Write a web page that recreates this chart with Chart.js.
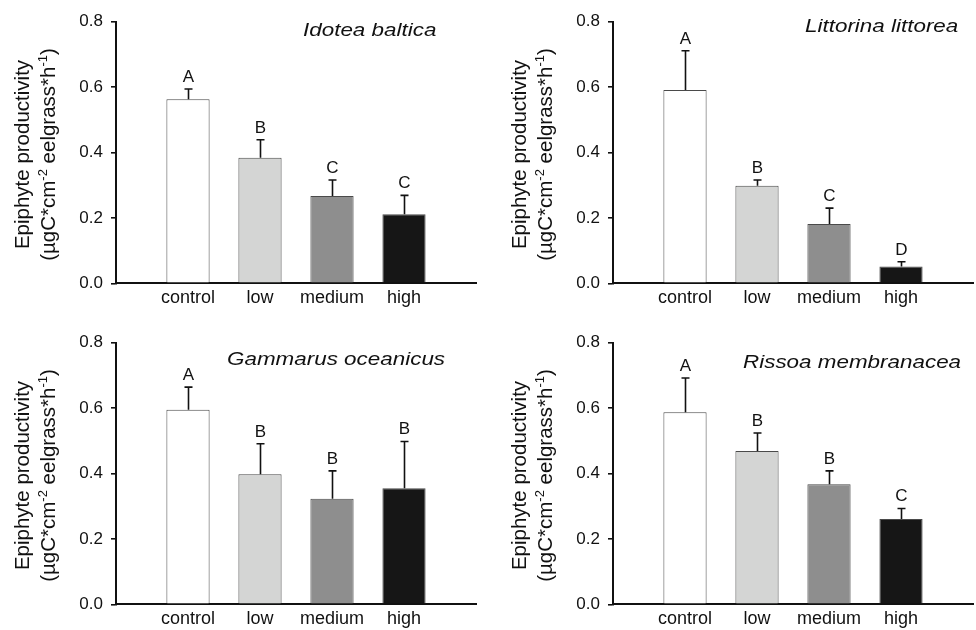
<!DOCTYPE html>
<html>
<head>
<meta charset="utf-8">
<script src="https://cdn.jsdelivr.net/npm/chart.js@4/dist/chart.umd.min.js"></script>
<style>
    html, body {
        margin: 0;
        padding: 0;
        background: #ffffff;
        overflow: hidden;
    }
    body {
        position: relative;
        width: 976px;
        height: 630px;
    }
    canvas {
        position: absolute;
    }
</style>
</head>
<body>
<canvas id="panel1" width="480" height="312" style="left:0px;top:0px"></canvas>
<canvas id="panel2" width="480" height="312" style="left:497px;top:0px"></canvas>
<canvas id="panel3" width="480" height="312" style="left:0px;top:321px"></canvas>
<canvas id="panel4" width="480" height="312" style="left:497px;top:321px"></canvas>
<script>

const categories = ["control", "low", "medium", "high"];

const yTicks = [0.0, 0.2, 0.4, 0.6, 0.8];

const barColors = ["#ffffff", "#d4d5d4", "#8e8e8e", "#161616"];

const idoteaMeans = [0.563, 0.384, 0.267, 0.211];
const idoteaErrors = [0.031, 0.055, 0.049, 0.058];
const idoteaLetters = ["A", "B", "C", "C"];

const littorinaMeans = [0.591, 0.298, 0.181, 0.051];
const littorinaErrors = [0.120, 0.018, 0.049, 0.015];
const littorinaLetters = ["A", "B", "C", "D"];

const gammarusMeans = [0.595, 0.398, 0.323, 0.355];
const gammarusErrors = [0.069, 0.093, 0.085, 0.143];
const gammarusLetters = ["A", "B", "B", "B"];

const rissoaMeans = [0.587, 0.469, 0.367, 0.261];
const rissoaErrors = [0.105, 0.055, 0.041, 0.032];
const rissoaLetters = ["A", "B", "B", "C"];

const FONT = "'Liberation Sans', Arial, Helvetica, sans-serif";
const INK = "#111111";

Chart.defaults.font.family = FONT;
Chart.defaults.color = INK;

function drawYTitle(ctx, area) {

    const cy = (area.top + area.bottom) / 2 + 2;

    ctx.save();
    ctx.fillStyle = INK;
    ctx.textBaseline = "alphabetic";

    // first line
    ctx.save();
    ctx.translate(area.left - 87, cy);
    ctx.rotate(-Math.PI / 2);
    ctx.font = "20.5px " + FONT;
    ctx.textAlign = "center";
    ctx.fillText("Epiphyte productivity", 0, 0);
    ctx.restore();

    // second line with superscripts
    const parts = [
        ["(\u00b5gC*cm", false],
        ["-2", true],
        [" eelgrass*h", false],
        ["-1", true],
        [")", false]
    ];

    const mainFont = "20.5px " + FONT;
    const supFont = "13px " + FONT;

    let total = 0;
    parts.forEach(function(p) {
        ctx.font = p[1] ? supFont : mainFont;
        total += ctx.measureText(p[0]).width;
    });

    ctx.save();
    ctx.translate(area.left - 61, cy);
    ctx.rotate(-Math.PI / 2);
    ctx.textAlign = "left";
    let u = -total / 2;
    parts.forEach(function(p) {
        ctx.font = p[1] ? supFont : mainFont;
        ctx.fillText(p[0], u, p[1] ? -8 : 0);
        u += ctx.measureText(p[0]).width;
    });
    ctx.restore();

    ctx.restore();
}

function makePanel(canvasId, name, means, errors, letters, titleSpot) {

    const labels = [""].concat(categories).concat([""]);
    const values = [null].concat(means).concat([null]);
    const colors = ["#ffffff"].concat(barColors).concat(["#ffffff"]);

    const panelPlugin = {
        id: "panelDecor",
        afterDatasetsDraw: function(chart) {

            const ctx = chart.ctx;
            const yScale = chart.scales.y;
            const bars = chart.getDatasetMeta(0).data;

            ctx.save();
            ctx.strokeStyle = INK;
            ctx.fillStyle = INK;
            ctx.lineWidth = 1.6;

            means.forEach(function(m, i) {

                const bar = bars[i + 1];
                const x = Math.round(bar.x) + 0.5;
                const yTop = yScale.getPixelForValue(m);
                const yErr = yScale.getPixelForValue(m + errors[i]);

                ctx.beginPath();
                ctx.moveTo(x, yTop);
                ctx.lineTo(x, yErr);
                ctx.moveTo(x - 4, yErr);
                ctx.lineTo(x + 4, yErr);
                ctx.stroke();

                ctx.font = "17px " + FONT;
                ctx.textAlign = "center";
                ctx.textBaseline = "alphabetic";
                ctx.fillText(letters[i], x, yErr - 7);
            });

            ctx.restore();

            const area = chart.chartArea;

            // species name, slightly widened like the original print
            ctx.save();
            ctx.fillStyle = INK;
            ctx.font = "italic 19px " + FONT;
            ctx.textAlign = "left";
            ctx.textBaseline = "alphabetic";
            ctx.translate(area.left + titleSpot.dx, area.top + titleSpot.dy);
            ctx.scale(1.18, 1);
            ctx.fillText(name, 0, 0);
            ctx.restore();

            drawYTitle(ctx, area);
        }
    };

    const canvas = document.getElementById(canvasId);

    return new Chart(
        canvas,
        {
            type: "bar",
            data: {
                labels: labels,
                datasets: [
                    {
                        data: values,
                        backgroundColor: colors,
                        borderColor: "#4a4a4a",
                        borderWidth: 1,
                        borderSkipped: "start",
                        barPercentage: 0.6,
                        categoryPercentage: 1.0
                    }
                ]
            },
            options: {
                responsive: false,
                animation: false,
                events: [],
                layout: {
                    padding: {
                        left: 0,
                        right: 0,
                        top: 21.7,
                        bottom: 0
                    }
                },
                plugins: {
                    legend: { display: false },
                    title: { display: false },
                    tooltip: { enabled: false }
                },
                scales: {
                    x: {
                        type: "category",
                        offset: false,
                        grid: {
                            display: false,
                            drawTicks: false
                        },
                        border: {
                            display: true,
                            color: INK,
                            width: 2
                        },
                        ticks: {
                            autoSkip: false,
                            maxRotation: 0,
                            padding: 4,
                            color: INK,
                            font: { size: 18 }
                        },
                        afterFit: function(scale) {
                            scale.height = 28.7;
                        }
                    },
                    y: {
                        min: yTicks[0],
                        max: yTicks[yTicks.length - 1],
                        afterBuildTicks: function(scale) {
                            scale.ticks = yTicks.map(function(v) {
                                return { value: v };
                            });
                        },
                        grid: {
                            display: true,
                            drawOnChartArea: false,
                            drawTicks: true,
                            tickLength: 5,
                            color: INK,
                            lineWidth: 1.6
                        },
                        border: {
                            display: true,
                            color: INK,
                            width: 2
                        },
                        ticks: {
                            padding: 8,
                            color: INK,
                            font: { size: 17 },
                            callback: function(value) {
                                return Number(value).toFixed(1);
                            }
                        },
                        afterFit: function(scale) {
                            scale.width = 116;
                        }
                    }
                }
            },
            plugins: [panelPlugin]
        }
    );
}

makePanel("panel1", "Idotea baltica", idoteaMeans, idoteaErrors, idoteaLetters, { dx: 187, dy: 14.5 });
makePanel("panel2", "Littorina littorea", littorinaMeans, littorinaErrors, littorinaLetters, { dx: 192, dy: 10 });
makePanel("panel3", "Gammarus oceanicus", gammarusMeans, gammarusErrors, gammarusLetters, { dx: 111, dy: 22.7 });
makePanel("panel4", "Rissoa membranacea", rissoaMeans, rissoaErrors, rissoaLetters, { dx: 130, dy: 25.4 });

</script>
</body>
</html>
